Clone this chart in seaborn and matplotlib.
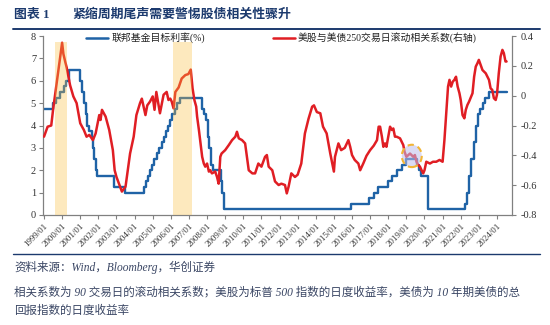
import matplotlib
matplotlib.use("Agg")
import matplotlib.pyplot as plt
from matplotlib.lines import Line2D
from matplotlib.patches import Ellipse
import seaborn as sns
import pandas as pd

# Fed funds target rate (upper bound, %), change points as decimal years
fed_years = [1999.0, 1999.5, 1999.65, 1999.88, 2000.09, 2000.22, 2000.37,
             2001.0, 2001.08, 2001.22, 2001.3, 2001.38, 2001.48, 2001.64,
             2001.71, 2001.76, 2001.85, 2001.95, 2002.85, 2003.49,
             2004.5, 2004.61, 2004.72, 2004.86, 2004.95, 2005.08, 2005.22,
             2005.34, 2005.5, 2005.61, 2005.72, 2005.84, 2005.95, 2006.08,
             2006.24, 2006.36, 2006.49, 2007.72, 2007.83, 2007.95, 2008.06,
             2008.08, 2008.22, 2008.33, 2008.77, 2008.83, 2008.96, 2015.96,
             2016.96, 2017.21, 2017.46, 2017.96, 2018.22, 2018.46, 2018.74,
             2018.97, 2019.58, 2019.72, 2019.83, 2020.17, 2020.21, 2022.21,
             2022.34, 2022.46, 2022.57, 2022.72, 2022.84, 2022.96, 2023.09,
             2023.22, 2023.34, 2023.57, 2024.53]
fed_rate = [4.75, 5.0, 5.25, 5.5, 5.75, 6.0, 6.5,
            6.0, 5.5, 5.0, 4.5, 4.0, 3.75, 3.5,
            3.0, 2.5, 2.0, 1.75, 1.25, 1.0,
            1.25, 1.5, 1.75, 2.0, 2.25, 2.5, 2.75,
            3.0, 3.25, 3.5, 3.75, 4.0, 4.25, 4.5,
            4.75, 5.0, 5.25, 4.75, 4.5, 4.25, 3.5,
            3.0, 2.25, 2.0, 1.5, 1.0, 0.25, 0.5,
            0.75, 1.0, 1.25, 1.5, 1.75, 2.0, 2.25,
            2.5, 2.25, 2.0, 1.75, 1.5, 0.25, 0.5,
            1.0, 1.75, 2.5, 3.25, 4.0, 4.5, 4.75,
            5.0, 5.25, 5.5, 5.5]

# Rolling stock-bond correlation (right axis)
corr_years = [1999.0, 1999.2, 1999.4, 1999.5, 1999.7, 1999.9, 2000.0, 2000.07,
              2000.17, 2000.25, 2000.44, 2000.62, 2000.8, 2001.0, 2001.2,
              2001.35, 2001.5, 2001.7, 2001.85, 2002.05, 2002.12, 2002.2,
              2002.4, 2002.6, 2002.8, 2002.9, 2003.0, 2003.2, 2003.3, 2003.5,
              2003.6, 2003.75, 2003.95, 2004.1, 2004.3, 2004.4, 2004.6, 2004.7,
              2004.85, 2005.0, 2005.1, 2005.2, 2005.4, 2005.6, 2005.77,
              2005.87, 2005.97, 2006.05, 2006.15, 2006.25, 2006.43, 2006.6,
              2006.8, 2006.97, 2007.1, 2007.2, 2007.3, 2007.4, 2007.45,
              2007.55, 2007.64, 2007.73, 2007.82, 2007.9, 2008.0, 2008.1,
              2008.18, 2008.27, 2008.45, 2008.55, 2008.64, 2008.73, 2008.8,
              2009.0, 2009.2, 2009.38, 2009.56, 2009.65, 2009.75, 2009.93,
              2010.1, 2010.2, 2010.3, 2010.5, 2010.65, 2010.83, 2011.0,
              2011.2, 2011.3, 2011.4, 2011.6, 2011.75, 2011.95, 2012.1,
              2012.3, 2012.4, 2012.5, 2012.65, 2012.85, 2013.0, 2013.2,
              2013.4, 2013.6, 2013.8, 2013.9, 2014.06, 2014.25, 2014.4,
              2014.6, 2014.8, 2015.0, 2015.06, 2015.25, 2015.4, 2015.6,
              2015.8, 2015.9, 2016.0, 2016.15, 2016.35, 2016.45, 2016.62,
              2016.8, 2017.0, 2017.2, 2017.38, 2017.47, 2017.55, 2017.65,
              2017.73, 2017.82, 2017.9, 2018.1, 2018.2, 2018.28, 2018.37,
              2018.46, 2018.65, 2018.83, 2018.9, 2019.0, 2019.2, 2019.38,
              2019.47, 2019.56, 2019.65, 2019.75, 2019.84, 2019.93, 2020.0,
              2020.1, 2020.3, 2020.47, 2020.65, 2020.83, 2021.0, 2021.1,
              2021.2, 2021.3, 2021.38, 2021.47, 2021.56, 2021.65, 2021.74,
              2021.83, 2021.93, 2022.0, 2022.1, 2022.2, 2022.28, 2022.37,
              2022.46, 2022.65, 2022.74, 2022.83, 2022.92, 2023.0, 2023.1,
              2023.2, 2023.38, 2023.56, 2023.65, 2023.74, 2023.83, 2023.93,
              2024.0, 2024.1, 2024.2, 2024.3, 2024.38, 2024.47, 2024.53]
corr_values = [-0.275, -0.208, -0.2, -0.095, 0.085, 0.265, 0.355, 0.28,
               0.228, 0.19, 0.07, -0.005, -0.05, -0.185, -0.23,
               -0.275, -0.263, -0.298, -0.253, -0.13, -0.163, -0.095,
               -0.14, -0.23, -0.365, -0.5, -0.545, -0.61, -0.643, -0.61,
               -0.521, -0.388, -0.275, -0.13, -0.05, -0.02, -0.13, -0.065,
               -0.04, -0.005, -0.095, 0.025, -0.118, 0.006, 0.025,
               -0.029, -0.02, -0.04, -0.085, 0.025, 0.055, 0.115,
               0.138, 0.145, 0.175, 0.049, -0.029, -0.073, -0.14,
               -0.23, -0.32, -0.41, -0.455, -0.476, -0.455, -0.509,
               -0.5, -0.521, -0.509, -0.545, -0.59, -0.41, -0.388,
               -0.365, -0.331, -0.298, -0.275, -0.242, -0.286, -0.298,
               -0.32, -0.41, -0.5, -0.521, -0.521, -0.455, -0.476,
               -0.41, -0.398, -0.476, -0.5, -0.575, -0.599, -0.59,
               -0.599, -0.655, -0.61, -0.521, -0.545, -0.53, -0.455,
               -0.253, -0.155, -0.074, -0.065, -0.11, -0.118, -0.208,
               -0.253, -0.388, -0.509, -0.41, -0.32, -0.365, -0.35,
               -0.298, -0.343, -0.398, -0.431, -0.455, -0.5, -0.455,
               -0.403, -0.365, -0.335, -0.298, -0.208, -0.208, -0.275,
               -0.343, -0.32, -0.343, -0.208, -0.23, -0.22, -0.275,
               -0.275, -0.286, -0.331, -0.376, -0.41, -0.388, -0.41,
               -0.398, -0.443, -0.464, -0.476, -0.5, -0.521, -0.5,
               -0.443, -0.455, -0.443, -0.443, -0.431, -0.443, -0.298,
               -0.118, 0.061, 0.106, 0.061, 0.094, 0.106, 0.127,
               0.061, 0.016, -0.029, -0.13, -0.152, -0.095, -0.062,
               -0.04, 0.016, 0.127, 0.195, 0.217, 0.24, 0.205,
               0.172, 0.15, 0.106, 0.049, 0.039, -0.017, -0.029,
               0.006, 0.15, 0.262, 0.307, 0.285, 0.229, 0.229]

tick_years = list(range(1999, 2025))
tick_labels = [f"{y}/01" for y in tick_years]
left_ticks = [0, 1, 2, 3, 4, 5, 6, 7, 8]
right_ticks = [-0.8, -0.6, -0.4, -0.2, 0.0, 0.2, 0.4]
right_labels = ["-0.8", "-0.6", "-0.4", "-0.2", "0", "0.2", "0.4"]

# Tightening-cycle tail periods and the highlighted 2019 episode
shade_spans = [(1999.6, 2000.27), (2006.1, 2007.15)]
highlight_center = (2019.3, -0.404)

fed_label = "联邦基金目标利率(%)"
corr_label = "美股与美债250交易日滚动相关系数(右轴)"

sns.set_theme(style="white")
plt.rcParams["font.family"] = ["Liberation Serif", "Noto Sans CJK SC", "DejaVu Sans"]
plt.rcParams["axes.unicode_minus"] = False

BLUE = "#1F63A6"
RED = "#E01E24"
NAVY = "#1C3A6E"
GRAY = "#808080"

fig = plt.figure(figsize=(5.5, 3.25), dpi=100)
ax = fig.add_axes([43 / 550, 110 / 325, 469 / 550, 179 / 325])
ax2 = ax.twinx()

fed_df = pd.DataFrame({"year": fed_years, "rate": fed_rate})
corr_df = pd.DataFrame({"year": corr_years, "corr": corr_values})

sns.lineplot(data=fed_df, x="year", y="rate", ax=ax, color=BLUE, lw=1.7,
             drawstyle="steps-post", label=fed_label, legend=False)
sns.lineplot(data=corr_df, x="year", y="corr", ax=ax2, color=RED, lw=1.8,
             label=corr_label, legend=False)

ax.set_xlim(1998.945, 2024.83)
ax.set_ylim(0, 8)
ax2.set_ylim(-0.8, 0.4)

for x0, x1 in shade_spans:
    ax2.axvspan(x0, x1, ymin=0, ymax=0.965, color="#FABE3C", alpha=0.33,
                lw=0, zorder=5)

ax2.add_patch(Ellipse(highlight_center, width=1.1, height=0.15,
                      facecolor="#BEBEEB", alpha=0.55, edgecolor="none", zorder=5))
ax2.add_patch(Ellipse(highlight_center, width=1.1, height=0.15,
                      facecolor="none", edgecolor="#F2B535", lw=1.5,
                      linestyle=(0, (3, 2)), zorder=6))

ax.set_xticks(tick_years)
ax.set_xticklabels(tick_labels, rotation=45, ha="right", rotation_mode="anchor",
                   fontsize=6.5, color="#333333")
ax.set_yticks(left_ticks)
ax.set_yticklabels([str(t) for t in left_ticks], fontsize=7.5, color="#333333")
ax2.set_yticks(right_ticks)
ax2.set_yticklabels(right_labels, fontsize=7.5, color="#333333")

for a in (ax, ax2):
    a.set_xlabel("")
    a.set_ylabel("")
    a.grid(False)
    a.spines["top"].set_visible(False)
    for s in ("left", "right", "bottom"):
        a.spines[s].set_color(GRAY)
        a.spines[s].set_linewidth(0.9)
ax.spines["right"].set_visible(False)
ax2.spines["left"].set_visible(False)
ax2.spines["bottom"].set_visible(False)

ax.tick_params(axis="x", direction="out", length=3, width=0.8, color=GRAY, pad=2, bottom=True)
ax.tick_params(axis="y", direction="out", length=3, width=0.8, color=GRAY, pad=2, left=True)
ax2.tick_params(axis="y", direction="out", length=3, width=0.8, color=GRAY, pad=3, right=True)

leg1 = ax.legend(handles=[Line2D([], [], color=BLUE, lw=1.8)], labels=[fed_label],
                 loc="center left", bbox_to_anchor=(0.092, 0.99), frameon=False,
                 fontsize=7.1, handlelength=2.2, handletextpad=0.35,
                 borderpad=0, borderaxespad=0)
leg1.set_zorder(10)
leg2 = ax2.legend(handles=[Line2D([], [], color=RED, lw=1.8)], labels=[corr_label],
                  loc="center left", bbox_to_anchor=(0.49, 0.99), frameon=False,
                  fontsize=7.1, handlelength=2.2, handletextpad=0.35,
                  borderpad=0, borderaxespad=0)
leg2.set_zorder(10)
for leg in (leg1, leg2):
    for t in leg.get_texts():
        t.set_color("#222222")

# Header
fig.text(14 / 550, 1 - 15 / 325, "图表 1", fontsize=9.3, fontweight="bold",
         color=NAVY, va="center", ha="left")
fig.text(72 / 550, 1 - 15 / 325, "紧缩周期尾声需要警惕股债相关性骤升", fontsize=9.3,
         fontweight="bold", color=NAVY, va="center", ha="left")
fig.add_artist(Line2D([13 / 550, 540 / 550], [1 - 28.5 / 325] * 2,
                      transform=fig.transFigure, color=NAVY, lw=1.4))
fig.add_artist(Line2D([13 / 550, 540 / 550], [1 - 254 / 325] * 2,
                      transform=fig.transFigure, color=NAVY, lw=1.0))

# Footnotes
note_kw = dict(fontsize=8.3, color="#3A4664", va="center", ha="left", style="italic")
fig.text(14 / 550, 1 - 267 / 325, "资料来源：Wind，Bloomberg，华创证券", **note_kw)
fig.text(14 / 550, 1 - 292 / 325,
         "相关系数为 90 交易日的滚动相关系数；美股为标普 500 指数的日度收益率，美债为 10 年期美债的总",
         **note_kw)
fig.text(14 / 550, 1 - 311 / 325, "回报指数的日度收益率", **note_kw)

fig.savefig("out.png", dpi=100)
